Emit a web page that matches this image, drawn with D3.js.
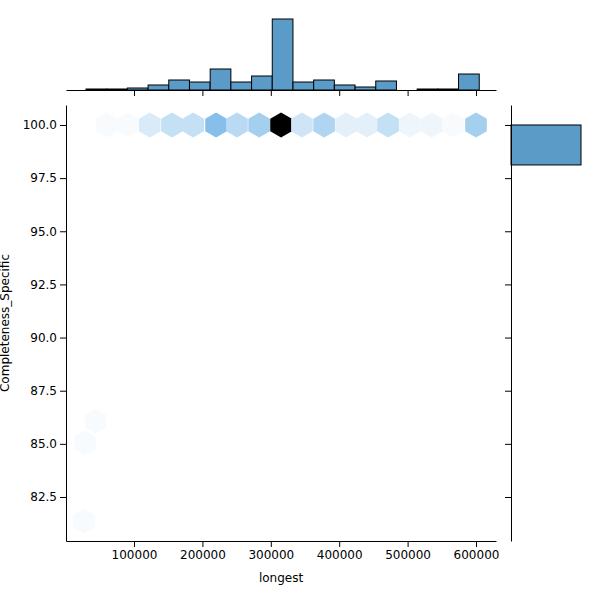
<!DOCTYPE html>
<html><head><script src="https://d3js.org/d3.v7.min.js"></script>
<style>body{margin:0;background:#fff}text{font-family:"DejaVu Sans",sans-serif}</style>
</head><body><svg id="c" width="600" height="600"></svg>
<script>
// hexbin cells along the top row (Completeness = 100)
var hexX = [60000,91000,123000,155500,186500,220000,250500,283000,315000,345500,378000,410000,440500,471500,503500,535500,566500,600000];
var hexCount = [1,1,4,6,6,12,7,9,30,5,8,3,3,6,2,2,1,9];
// sparse low cells
var lowX = [44000,28500,27000];
var lowY = [86.06,85.05,81.37];
var lowCount = [1,1,1];

// marginal histogram of "longest"
var binStart = 29800, binWidth = 30260;
var xCounts = [1,1,2,5,10,8,21,8,14,71,8,10,5,3,9,0,1,1,16];
// marginal histogram of Completeness_Specific
var yBins = [[81.0,82.9],[84.6,86.4],[98.12,100.0]];
var yCounts = [1,2,180];

var xTicks = [100000,200000,300000,400000,500000,600000];
var yTicks = [82.5,85,87.5,90,92.5,95,97.5,100];

var svg = d3.select("#c");
var x = d3.scaleLinear().domain([585,629240]).range([66,496]);
var y = d3.scaleLinear().domain([80.43,100.94]).range([541,105]);

var col = d3.scaleLinear().domain([0,1,12,30]).range(["#ffffff","#f8fbfe","#86bfea","#000000"]);
var r = 12.5;
function hex(cx,cy){
    var p = d3.range(6).map(function(i){var a=Math.PI/3*i+Math.PI/6;return [cx+r*Math.cos(a),cy+r*Math.sin(a)];});
    return "M"+p.join("L")+"Z";
}
var cells = hexX.map(function(v,i){return {x:v,y:100,c:hexCount[i]};})
    .concat(lowX.map(function(v,i){return {x:v,y:lowY[i],c:lowCount[i]};}));
svg.append("g").selectAll("path").data(cells).enter().append("path")
    .attr("d",function(d){return hex(x(d.x),y(d.y));})
    .attr("fill",function(d){return col(d.c);});

var gx = svg.append("g").attr("transform","translate(0,541)").call(d3.axisBottom(x).tickValues(xTicks).tickFormat(d3.format("d")).tickSizeOuter(0));
var gy = svg.append("g").attr("transform","translate(66,0)").call(d3.axisLeft(y).tickValues(yTicks).tickFormat(d3.format(".1f")).tickSizeOuter(0));
[gx,gy].forEach(function(g){g.selectAll("text").attr("font-size",12).attr("fill","#000");g.select(".domain").attr("stroke","#000");});
svg.append("text").attr("x",281).attr("y",582).attr("text-anchor","middle").attr("font-size",12).text("longest");
svg.append("text").attr("transform","translate(9,323) rotate(-90)").attr("text-anchor","middle").attr("font-size",12).text("Completeness_Specific");

// top marginal
var hy = d3.scaleLinear().domain([0,71]).range([90,19]);
svg.append("g").selectAll("rect").data(xCounts).enter().append("rect")
    .attr("x",function(d,i){return x(binStart+i*binWidth);})
    .attr("width",x(binStart+binWidth)-x(binStart))
    .attr("y",function(d){return hy(d);}).attr("height",function(d){return 90-hy(d);})
    .attr("fill","#5a9bc8").attr("stroke","#000").attr("stroke-width",1)
    .attr("display",function(d){return d>0?null:"none";});
svg.append("g").attr("transform","translate(0,90)").call(d3.axisBottom(x).tickValues(xTicks).tickFormat("").tickSizeOuter(0)).select(".domain").attr("stroke","#000");

// right marginal
var hx = d3.scaleLinear().domain([0,180]).range([511,581]);
svg.append("g").selectAll("rect").data(yCounts).enter().append("rect")
    .attr("x",511).attr("y",function(d,i){return y(yBins[i][1]);})
    .attr("height",function(d,i){return y(yBins[i][0])-y(yBins[i][1]);})
    .attr("width",function(d){return hx(d)-511;})
    .attr("fill","#5a9bc8")
    .attr("stroke",function(d){return hx(d)-511>3?"#000":"none";}).attr("stroke-width",1);
svg.append("g").attr("transform","translate(511,0)").call(d3.axisLeft(y).tickValues(yTicks).tickFormat("").tickSizeOuter(0)).select(".domain").attr("stroke","#000");
</script></body></html>
